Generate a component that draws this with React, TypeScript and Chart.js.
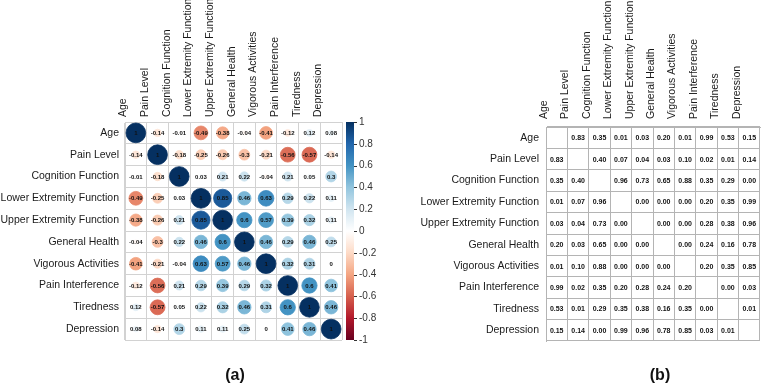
import { useEffect, useRef } from "react";
import { Chart, registerables } from "chart.js";

Chart.register(...registerables);

const FONT = "'Liberation Sans', Arial, Helvetica, sans-serif";

const variables = [
  "Age",
  "Pain Level",
  "Cognition Function",
  "Lower Extremity Function",
  "Upper Extremity Function",
  "General Health",
  "Vigorous Activities",
  "Pain Interference",
  "Tiredness",
  "Depression",
];

// Pearson correlation coefficients, one row per variable
const corrAge = [1, -0.14, -0.01, -0.49, -0.38, -0.04, -0.41, -0.12, 0.12, 0.08];
const corrPainLevel = [-0.14, 1, -0.18, -0.25, -0.26, -0.3, -0.21, -0.56, -0.57, -0.14];
const corrCognition = [-0.01, -0.18, 1, 0.03, 0.21, 0.22, -0.04, 0.21, 0.05, 0.3];
const corrLowerExt = [-0.49, -0.25, 0.03, 1, 0.85, 0.46, 0.63, 0.29, 0.22, 0.11];
const corrUpperExt = [-0.38, -0.26, 0.21, 0.85, 1, 0.6, 0.57, 0.39, 0.32, 0.11];
const corrGeneralHealth = [-0.04, -0.3, 0.22, 0.46, 0.6, 1, 0.46, 0.29, 0.46, 0.25];
const corrVigorous = [-0.41, -0.21, -0.04, 0.63, 0.57, 0.46, 1, 0.32, 0.31, 0];
const corrPainInterference = [-0.12, -0.56, 0.21, 0.29, 0.39, 0.29, 0.32, 1, 0.6, 0.41];
const corrTiredness = [0.12, -0.57, 0.05, 0.22, 0.32, 0.46, 0.31, 0.6, 1, 0.46];
const corrDepression = [0.08, -0.14, 0.3, 0.11, 0.11, 0.25, 0, 0.41, 0.46, 1];

// p-values of the correlations (diagonal left blank)
const pAge = [null, 0.83, 0.35, 0.01, 0.03, 0.2, 0.01, 0.99, 0.53, 0.15];
const pPainLevel = [0.83, null, 0.4, 0.07, 0.04, 0.03, 0.1, 0.02, 0.01, 0.14];
const pCognition = [0.35, 0.4, null, 0.96, 0.73, 0.65, 0.88, 0.35, 0.29, 0.0];
const pLowerExt = [0.01, 0.07, 0.96, null, 0.0, 0.0, 0.0, 0.2, 0.35, 0.99];
const pUpperExt = [0.03, 0.04, 0.73, 0.0, null, 0.0, 0.0, 0.28, 0.38, 0.96];
const pGeneralHealth = [0.2, 0.03, 0.65, 0.0, 0.0, null, 0.0, 0.24, 0.16, 0.78];
const pVigorous = [0.01, 0.1, 0.88, 0.0, 0.0, 0.0, null, 0.2, 0.35, 0.85];
const pPainInterference = [0.99, 0.02, 0.35, 0.2, 0.28, 0.24, 0.2, null, 0.0, 0.03];
const pTiredness = [0.53, 0.01, 0.29, 0.35, 0.38, 0.16, 0.35, 0.0, null, 0.01];
const pDepression = [0.15, 0.14, 0.0, 0.99, 0.96, 0.78, 0.85, 0.03, 0.01, null];

const colorbarTicks = [1, 0.8, 0.6, 0.4, 0.2, 0, -0.2, -0.4, -0.6, -0.8, -1];

// diverging palette from -1 (dark red) to +1 (dark blue)
const rdbu = [
  "#67001F", "#B2182B", "#D6604D", "#F4A582", "#FDDBC7", "#FFFFFF",
  "#D1E5F0", "#92C5DE", "#4393C3", "#2166AC", "#053061",
];

const corrRows = [
  corrAge, corrPainLevel, corrCognition, corrLowerExt, corrUpperExt,
  corrGeneralHealth, corrVigorous, corrPainInterference, corrTiredness, corrDepression,
];
const pRows = [
  pAge, pPainLevel, pCognition, pLowerExt, pUpperExt,
  pGeneralHealth, pVigorous, pPainInterference, pTiredness, pDepression,
];

function hexToRgb(h: string) {
  const n = parseInt(h.slice(1), 16);
  return [(n >> 16) & 255, (n >> 8) & 255, n & 255];
}

function corrColor(v: number) {
  const pos = ((v + 1) / 2) * (rdbu.length - 1);
  const i = Math.min(Math.floor(pos), rdbu.length - 2);
  const t = pos - i;
  const a = hexToRgb(rdbu[i]);
  const b = hexToRgb(rdbu[i + 1]);
  const c = a.map((x, k) => Math.round(x + (b[k] - x) * t));
  return `rgb(${c[0]},${c[1]},${c[2]})`;
}

// writes each point's text at the centre of its element
const cellLabels = {
  id: "cellLabels",
  afterDatasetsDraw(chart: any, _args: any, opts: any) {
    const { ctx } = chart;
    const meta = chart.getDatasetMeta(0);
    const data = chart.data.datasets[0].data;
    ctx.save();
    ctx.font = opts.font;
    ctx.fillStyle = opts.color;
    ctx.textAlign = "center";
    ctx.textBaseline = "middle";
    meta.data.forEach((el: any, k: number) => {
      const d = data[k];
      if (d && d.text != null) ctx.fillText(d.text, el.x, el.y + 0.5);
    });
    ctx.restore();
  },
};

// colour legend drawn next to the plot, positioned by the "bar" scale
const colorbar = {
  id: "colorbar",
  afterDraw(chart: any, _args: any, opts: any) {
    const s = chart.scales.bar;
    if (!s) return;
    const { ctx } = chart;
    const x0 = chart.chartArea.right + opts.gap;
    const top = s.getPixelForValue(1);
    const bottom = s.getPixelForValue(-1);
    const g = ctx.createLinearGradient(0, bottom, 0, top);
    rdbu.forEach((c, i) => g.addColorStop(i / (rdbu.length - 1), c));
    ctx.save();
    ctx.fillStyle = g;
    ctx.fillRect(x0, top, opts.width, bottom - top);
    ctx.strokeStyle = "#333";
    ctx.lineWidth = 1;
    ctx.beginPath();
    s.ticks.forEach((t: any) => {
      const y = Math.round(s.getPixelForValue(t.value)) + 0.5;
      ctx.moveTo(x0 + opts.width, y);
      ctx.lineTo(x0 + opts.width + 3, y);
    });
    ctx.stroke();
    ctx.restore();
  },
};

function categoryAxis(position: string, gridColor: string, size: number, padding: number, rotate: boolean) {
  return {
    type: "category",
    labels: variables,
    position,
    offset: true,
    grid: { offset: true, color: gridColor, drawTicks: false, lineWidth: 1 },
    border: { color: gridColor },
    ticks: {
      autoSkip: false,
      padding,
      color: "#1a1a1a",
      font: { size: 10.5, family: FONT },
      ...(rotate ? { minRotation: 90, maxRotation: 90 } : {}),
    },
    afterFit: (s: any) => {
      if (rotate) s.height = size;
      else s.width = size;
    },
  };
}

// circle radius grows with sqrt(|r|) so that its area tracks the coefficient
function circleRadius(c: any) {
  const sx = c.chart.scales.x;
  const cell = Math.abs(sx.getPixelForValue(1) - sx.getPixelForValue(0));
  const v = c.raw ? c.raw.v : 0;
  return 0.455 * cell * Math.sqrt(Math.abs(v));
}

function correlationConfig(): any {
  const points = corrRows.flatMap((row, i) =>
    row.map((v, j) => ({ x: variables[j], y: variables[i], v, text: String(v) }))
  );
  return {
    type: "scatter",
    data: {
      datasets: [
        {
          data: points,
          xAxisID: "x",
          yAxisID: "y",
          showLine: false,
          pointStyle: "circle",
          pointRadius: circleRadius,
          pointBackgroundColor: (c: any) => corrColor(c.raw ? c.raw.v : 0),
          pointBorderColor: (c: any) => corrColor(c.raw ? c.raw.v : 0),
          pointBorderWidth: 0.8,
        },
      ],
    },
    options: {
      responsive: false,
      devicePixelRatio: 1,
      animation: false,
      events: [],
      layout: { padding: { left: 0, top: 0, right: 88, bottom: 50 } },
      plugins: {
        legend: { display: false },
        tooltip: { enabled: false },
        cellLabels: { font: `bold 6px ${FONT}`, color: "#111" },
        colorbar: { gap: 4, width: 8 },
      },
      scales: {
        x: categoryAxis("top", "#d2d2d2", 122, 5, true),
        y: categoryAxis("left", "#d2d2d2", 125, 6, false),
        bar: {
          type: "linear",
          position: "right",
          min: -1,
          max: 1,
          grid: { display: false, drawTicks: false },
          border: { display: false },
          afterBuildTicks: (s: any) => {
            s.ticks = colorbarTicks.map((value) => ({ value }));
          },
          ticks: {
            padding: 17,
            color: "#333",
            font: { size: 10, family: FONT },
            callback: (v: any) => String(v),
          },
          afterFit: (s: any) => {
            s.width = 40;
          },
        },
      },
    },
    plugins: [cellLabels, colorbar],
  };
}

function pValueConfig(): any {
  const points: any[] = [];
  pRows.forEach((row, i) =>
    row.forEach((p, j) => {
      if (p != null) points.push({ x: variables[j], y: variables[i], text: p.toFixed(2) });
    })
  );
  return {
    type: "scatter",
    data: {
      datasets: [{ data: points, xAxisID: "x", yAxisID: "y", pointRadius: 0 }],
    },
    options: {
      responsive: false,
      devicePixelRatio: 1,
      animation: false,
      events: [],
      layout: { padding: { left: 0, top: 0, right: 24, bottom: 49 } },
      plugins: {
        legend: { display: false },
        tooltip: { enabled: false },
        cellLabels: { font: `bold 7px ${FONT}`, color: "#111" },
      },
      scales: {
        x: categoryAxis("top", "#b4b4b4", 127, 8, true),
        y: categoryAxis("left", "#b4b4b4", 162, 7, false),
      },
    },
    plugins: [cellLabels],
  };
}

const captionStyle: any = {
  position: "absolute",
  top: 366,
  width: 60,
  textAlign: "center",
  fontWeight: "bold",
  fontSize: 16,
  fontFamily: FONT,
  color: "#111",
};

export default function App() {
  const aRef = useRef<HTMLCanvasElement>(null);
  const bRef = useRef<HTMLCanvasElement>(null);

  useEffect(() => {
    const a = new Chart(aRef.current as HTMLCanvasElement, correlationConfig());
    const b = new Chart(bRef.current as HTMLCanvasElement, pValueConfig());
    return () => {
      a.destroy();
      b.destroy();
    };
  }, []);

  return (
    <div
      style={{
        position: "fixed",
        left: 0,
        top: 0,
        width: 784,
        height: 390,
        background: "#fff",
        overflow: "hidden",
      }}
    >
      <canvas
        ref={aRef}
        width={470}
        height={390}
        style={{ position: "absolute", left: 0, top: 0, width: 470, height: 390 }}
      />
      <canvas
        ref={bRef}
        width={400}
        height={390}
        style={{ position: "absolute", left: 384, top: 0, width: 400, height: 390 }}
      />
      <div style={{ ...captionStyle, left: 205 }}>(a)</div>
      <div style={{ ...captionStyle, left: 630 }}>(b)</div>
    </div>
  );
}
